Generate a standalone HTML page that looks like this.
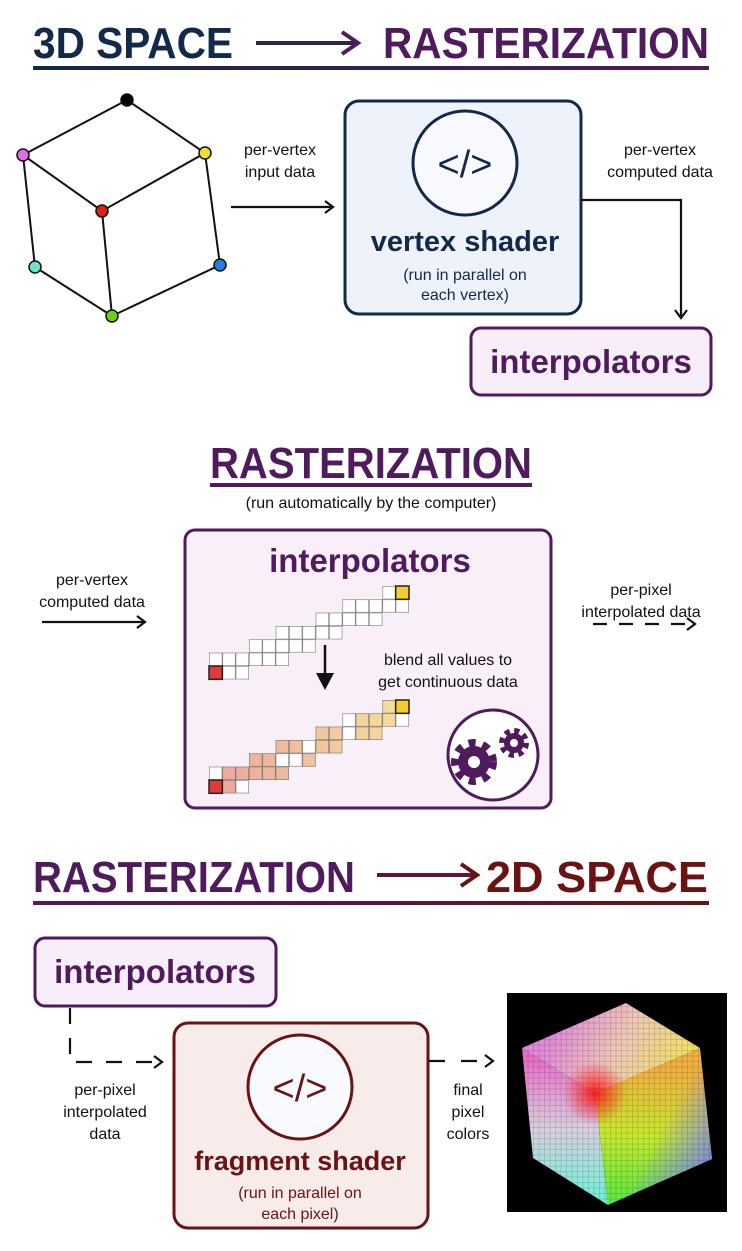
<!DOCTYPE html>
<html><head><meta charset="utf-8"><style>
html,body{margin:0;padding:0;background:#fff}
svg{display:block}
text{font-family:"Liberation Sans",sans-serif}
</style></head><body>
<svg width="742" height="1251" viewBox="0 0 742 1251" xmlns="http://www.w3.org/2000/svg">
<defs>
<linearGradient id="ul1" x1="0" x2="1"><stop offset="0" stop-color="#13294a"/><stop offset="1" stop-color="#4f1b5c"/></linearGradient>
<linearGradient id="ul3" x1="0" x2="1"><stop offset="0" stop-color="#4f1b5c"/><stop offset="1" stop-color="#6b1212"/></linearGradient>
<pattern id="grid" patternUnits="userSpaceOnUse" x="209" y="666" width="13.333" height="13.333"><rect x="0" y="0" width="13.333" height="13.333" fill="none" stroke="#777" stroke-width="1.2"/></pattern>
<pattern id="grid2" patternUnits="userSpaceOnUse" x="209" y="780" width="13.333" height="13.333"><rect x="0" y="0" width="13.333" height="13.333" fill="none" stroke="#777" stroke-width="1.2"/></pattern>
<linearGradient id="blend" gradientUnits="userSpaceOnUse" x1="209" y1="790" x2="409" y2="700"><stop offset="0" stop-color="#eca59a"/><stop offset="0.5" stop-color="#efc3a0"/><stop offset="1" stop-color="#f8e19a"/></linearGradient>
<linearGradient id="ftop" gradientUnits="userSpaceOnUse" x1="560" y1="1020" x2="680" y2="1080"><stop offset="0" stop-color="#e08ad8"/><stop offset="0.5" stop-color="#f0c8b8"/><stop offset="1" stop-color="#f0e060"/></linearGradient>
<linearGradient id="fleft" gradientUnits="userSpaceOnUse" x1="560" y1="1060" x2="560" y2="1200"><stop offset="0" stop-color="#e870c8"/><stop offset="0.5" stop-color="#d8d0e0"/><stop offset="1" stop-color="#70f0d8"/></linearGradient>
<linearGradient id="fright" gradientUnits="userSpaceOnUse" x1="650" y1="1070" x2="640" y2="1200"><stop offset="0" stop-color="#f0b040"/><stop offset="0.5" stop-color="#c8e830"/><stop offset="1" stop-color="#60e840"/></linearGradient>
<linearGradient id="fblue" gradientUnits="userSpaceOnUse" x1="660" y1="1130" x2="712" y2="1159"><stop offset="0" stop-color="#8080ff" stop-opacity="0"/><stop offset="1" stop-color="#7a80f0" stop-opacity="0.9"/></linearGradient>
<radialGradient id="fred" gradientUnits="userSpaceOnUse" cx="595" cy="1093" r="32"><stop offset="0" stop-color="#ff1a1a" stop-opacity="0.95"/><stop offset="1" stop-color="#ff2020" stop-opacity="0"/></radialGradient>
<pattern id="cgrid" patternUnits="userSpaceOnUse" width="5.5" height="5.5"><rect width="5.5" height="5.5" fill="none" stroke="#000" stroke-opacity="0.18" stroke-width="0.7"/></pattern>
<marker id="ah" markerWidth="12" markerHeight="14" refX="10" refY="7" orient="auto" markerUnits="userSpaceOnUse"><path d="M2,1 L10,7 L2,13" fill="none" stroke="#111" stroke-width="2.2"/></marker>
</defs>

<!-- Title 1 -->
<text x="33" y="58" font-size="44" font-weight="bold" fill="#13294a" textLength="200" lengthAdjust="spacingAndGlyphs">3D SPACE</text>
<path d="M256,43 L355,43" stroke="#2a2650" stroke-width="4"/>
<path d="M342,32 L358,43 L342,54" fill="none" stroke="#4f1b5c" stroke-width="4"/>
<text x="383" y="58" font-size="44" font-weight="bold" fill="#4f1b5c" textLength="326" lengthAdjust="spacingAndGlyphs">RASTERIZATION</text>
<rect x="33" y="66" width="676" height="4" fill="url(#ul1)"/>

<!-- Cube wireframe -->
<g stroke="#111" stroke-width="2" fill="none">
<path d="M127,100 L23,155 L102,211 L205,153 Z"/>
<path d="M23,155 L35,267 L112,316 L220,265 L205,153"/>
<path d="M102,211 L112,316"/>
</g>
<g stroke="#111" stroke-width="1.5">
<circle cx="127" cy="100" r="6" fill="#000"/>
<circle cx="23" cy="155" r="6" fill="#e070e0"/>
<circle cx="205" cy="153" r="6" fill="#f0e030"/>
<circle cx="102" cy="211" r="6" fill="#e02010"/>
<circle cx="35" cy="267" r="6" fill="#70e0c8"/>
<circle cx="220" cy="265" r="6" fill="#2080e0"/>
<circle cx="112" cy="316" r="6" fill="#70d010"/>
</g>

<text x="280" y="155" font-size="16" text-anchor="middle" fill="#111">per-vertex</text>
<text x="280" y="177" font-size="16" text-anchor="middle" fill="#111">input data</text>
<path d="M231,207 L333,207" stroke="#111" stroke-width="2.2" marker-end="url(#ah)"/>

<!-- vertex shader box -->
<rect x="345" y="101" width="236" height="213" rx="14" fill="#eef3fb" stroke="#13294a" stroke-width="3"/>
<circle cx="465" cy="163" r="52" fill="#f8faff" stroke="#13294a" stroke-width="3"/>
<text x="465" y="177" font-size="38" text-anchor="middle" fill="#13294a">&lt;/&gt;</text>
<text x="465" y="251" font-size="29" font-weight="bold" text-anchor="middle" fill="#13294a">vertex shader</text>
<text x="465" y="280" font-size="16" text-anchor="middle" fill="#13294a">(run in parallel on</text>
<text x="465" y="300" font-size="16" text-anchor="middle" fill="#13294a">each vertex)</text>

<text x="660" y="155" font-size="16" text-anchor="middle" fill="#111">per-vertex</text>
<text x="660" y="177" font-size="16" text-anchor="middle" fill="#111">computed data</text>
<path d="M581,200 L681,200 L681,318" fill="none" stroke="#111" stroke-width="2.2" marker-end="url(#ah)"/>

<rect x="471" y="328" width="240" height="67" rx="10" fill="#f8eef9" stroke="#4f1b5c" stroke-width="3"/>
<text x="591" y="373" font-size="33" font-weight="bold" text-anchor="middle" fill="#4f1b5c">interpolators</text>

<!-- Section 2 -->
<text x="210" y="478" font-size="44" font-weight="bold" fill="#4f1b5c" textLength="322" lengthAdjust="spacingAndGlyphs">RASTERIZATION</text>
<rect x="210" y="483" width="322" height="4" fill="#4f1b5c"/>
<text x="371" y="508" font-size="16" text-anchor="middle" fill="#111">(run automatically by the computer)</text>

<text x="92" y="585" font-size="16" text-anchor="middle" fill="#111">per-vertex</text>
<text x="92" y="607" font-size="16" text-anchor="middle" fill="#111">computed data</text>
<path d="M42,622 L145,622" stroke="#111" stroke-width="2.2" marker-end="url(#ah)"/>

<rect x="185" y="530" width="366" height="278" rx="10" fill="#f8eff9" stroke="#4f1b5c" stroke-width="3"/>
<text x="370" y="572" font-size="33" font-weight="bold" text-anchor="middle" fill="#4f1b5c">interpolators</text>

<!-- top grid -->
<g fill="#fff">
<rect x="209" y="666" width="40" height="13.333"/>
<rect x="209" y="652.667" width="80" height="13.333"/>
<rect x="249" y="639.333" width="66.667" height="13.333"/>
<rect x="275.667" y="626" width="66.667" height="13.333"/>
<rect x="315.667" y="612.667" width="66.667" height="13.333"/>
<rect x="342.333" y="599.333" width="66.667" height="13.333"/>
<rect x="382.333" y="586" width="26.667" height="13.333"/>
</g>
<g fill="url(#grid)">
<rect x="209" y="666" width="40" height="13.333"/>
<rect x="209" y="652.667" width="80" height="13.333"/>
<rect x="249" y="639.333" width="66.667" height="13.333"/>
<rect x="275.667" y="626" width="66.667" height="13.333"/>
<rect x="315.667" y="612.667" width="66.667" height="13.333"/>
<rect x="342.333" y="599.333" width="66.667" height="13.333"/>
<rect x="382.333" y="586" width="26.667" height="13.333"/>
</g>
<rect x="209" y="666" width="13.333" height="13.333" fill="#e03a3a" stroke="#222" stroke-width="1.5"/>
<rect x="395.667" y="586" width="13.333" height="13.333" fill="#f2cc30" stroke="#222" stroke-width="1.5"/>

<path d="M325,645 L325,675" stroke="#111" stroke-width="2.5"/>
<path d="M316,673 L334,673 L325,690 Z" fill="#111"/>
<text x="448" y="665" font-size="16" text-anchor="middle" fill="#111">blend all values to</text>
<text x="448" y="687" font-size="16" text-anchor="middle" fill="#111">get continuous data</text>

<!-- bottom grid -->
<g fill="url(#blend)">
<rect x="209" y="780" width="40" height="13.333"/>
<rect x="209" y="766.667" width="80" height="13.333"/>
<rect x="249" y="753.333" width="66.667" height="13.333"/>
<rect x="275.667" y="740" width="66.667" height="13.333"/>
<rect x="315.667" y="726.667" width="66.667" height="13.333"/>
<rect x="342.333" y="713.333" width="66.667" height="13.333"/>
<rect x="382.333" y="700" width="26.667" height="13.333"/>
</g>
<g fill="#fff">
<rect x="235.667" y="780" width="13.333" height="13.333"/>
<rect x="209" y="766.667" width="13.333" height="13.333"/>
<rect x="275.667" y="753.333" width="26.667" height="13.333"/>
<rect x="302.333" y="740" width="13.333" height="13.333"/>
<rect x="342.333" y="726.667" width="13.333" height="13.333"/>
<rect x="342.333" y="713.333" width="13.333" height="13.333"/>
<rect x="395.667" y="713.333" width="13.333" height="13.333"/>
</g>
<g fill="url(#grid2)">
<rect x="209" y="780" width="40" height="13.333"/>
<rect x="209" y="766.667" width="80" height="13.333"/>
<rect x="249" y="753.333" width="66.667" height="13.333"/>
<rect x="275.667" y="740" width="66.667" height="13.333"/>
<rect x="315.667" y="726.667" width="66.667" height="13.333"/>
<rect x="342.333" y="713.333" width="66.667" height="13.333"/>
<rect x="382.333" y="700" width="26.667" height="13.333"/>
</g>
<rect x="209" y="780" width="13.333" height="13.333" fill="#e03a3a" stroke="#222" stroke-width="1.5"/>
<rect x="395.667" y="700" width="13.333" height="13.333" fill="#f2cc30" stroke="#222" stroke-width="1.5"/>

<!-- gears -->
<circle cx="493" cy="755" r="45" fill="#fff" stroke="#4f1b5c" stroke-width="3"/>
<g fill="#4f1b5c">
<circle cx="474" cy="762" r="16"/>
<circle cx="474" cy="762" r="19" fill="none" stroke="#4f1b5c" stroke-width="8" stroke-dasharray="7 7"/>
<circle cx="474" cy="762" r="6" fill="#fff"/>
<circle cx="514" cy="743" r="10"/>
<circle cx="514" cy="743" r="12" fill="none" stroke="#4f1b5c" stroke-width="6" stroke-dasharray="5 4.4"/>
<circle cx="514" cy="743" r="4" fill="#fff"/>
</g>

<text x="641" y="595" font-size="16" text-anchor="middle" fill="#111">per-pixel</text>
<text x="641" y="617" font-size="16" text-anchor="middle" fill="#111">interpolated data</text>
<path d="M593,624 L695,624" stroke="#111" stroke-width="2.2" stroke-dasharray="14 12" marker-end="url(#ah)"/>

<!-- Section 3 -->
<text x="33" y="892" font-size="44" font-weight="bold" fill="#4f1b5c" textLength="322" lengthAdjust="spacingAndGlyphs">RASTERIZATION</text>
<path d="M377,875 L474,875" stroke="#5a1838" stroke-width="4"/>
<path d="M461,864 L477,875 L461,886" fill="none" stroke="#6b1212" stroke-width="4"/>
<text x="486" y="892" font-size="44" font-weight="bold" fill="#6b1212" textLength="222" lengthAdjust="spacingAndGlyphs">2D SPACE</text>
<rect x="33" y="901" width="676" height="4" fill="url(#ul3)"/>

<rect x="35" y="938" width="241" height="68" rx="10" fill="#f8eef9" stroke="#4f1b5c" stroke-width="3"/>
<text x="155" y="983" font-size="33" font-weight="bold" text-anchor="middle" fill="#4f1b5c">interpolators</text>

<path d="M70,1008 L70,1062 L162,1062" fill="none" stroke="#111" stroke-width="2.2" stroke-dasharray="16 14" marker-end="url(#ah)"/>
<text x="105" y="1095" font-size="16" text-anchor="middle" fill="#111">per-pixel</text>
<text x="105" y="1117" font-size="16" text-anchor="middle" fill="#111">interpolated</text>
<text x="105" y="1139" font-size="16" text-anchor="middle" fill="#111">data</text>

<rect x="174" y="1023" width="254" height="205" rx="14" fill="#f8eceb" stroke="#6b1212" stroke-width="3"/>
<circle cx="300" cy="1087" r="52" fill="#f8faff" stroke="#6b1212" stroke-width="3"/>
<text x="300" y="1101" font-size="38" text-anchor="middle" fill="#6b1212">&lt;/&gt;</text>
<text x="300" y="1170" font-size="27" font-weight="bold" text-anchor="middle" fill="#6b1212">fragment shader</text>
<text x="300" y="1198" font-size="16" text-anchor="middle" fill="#6b1212">(run in parallel on</text>
<text x="300" y="1219" font-size="16" text-anchor="middle" fill="#6b1212">each pixel)</text>

<path d="M429,1061 L493,1061" stroke="#111" stroke-width="2.2" stroke-dasharray="16 16" marker-end="url(#ah)"/>
<text x="468" y="1095" font-size="16" text-anchor="middle" fill="#111">final</text>
<text x="468" y="1117" font-size="16" text-anchor="middle" fill="#111">pixel</text>
<text x="468" y="1139" font-size="16" text-anchor="middle" fill="#111">colors</text>

<!-- rendered cube -->
<rect x="507" y="993" width="220" height="219" fill="#000"/>
<polygon points="626,1003 522,1048 595,1093 700,1048" fill="url(#ftop)"/>
<polygon points="522,1048 595,1093 608,1205 533,1158" fill="url(#fleft)"/>
<polygon points="595,1093 700,1048 712,1159 608,1205" fill="url(#fright)"/>
<polygon points="595,1093 700,1048 712,1159 608,1205" fill="url(#fblue)"/>
<polygon points="626,1003 522,1048 533,1158 608,1205 712,1159 700,1048" fill="url(#fred)"/>
<polygon points="626,1003 522,1048 533,1158 608,1205 712,1159 700,1048" fill="url(#cgrid)"/>
</svg>
</body></html>
